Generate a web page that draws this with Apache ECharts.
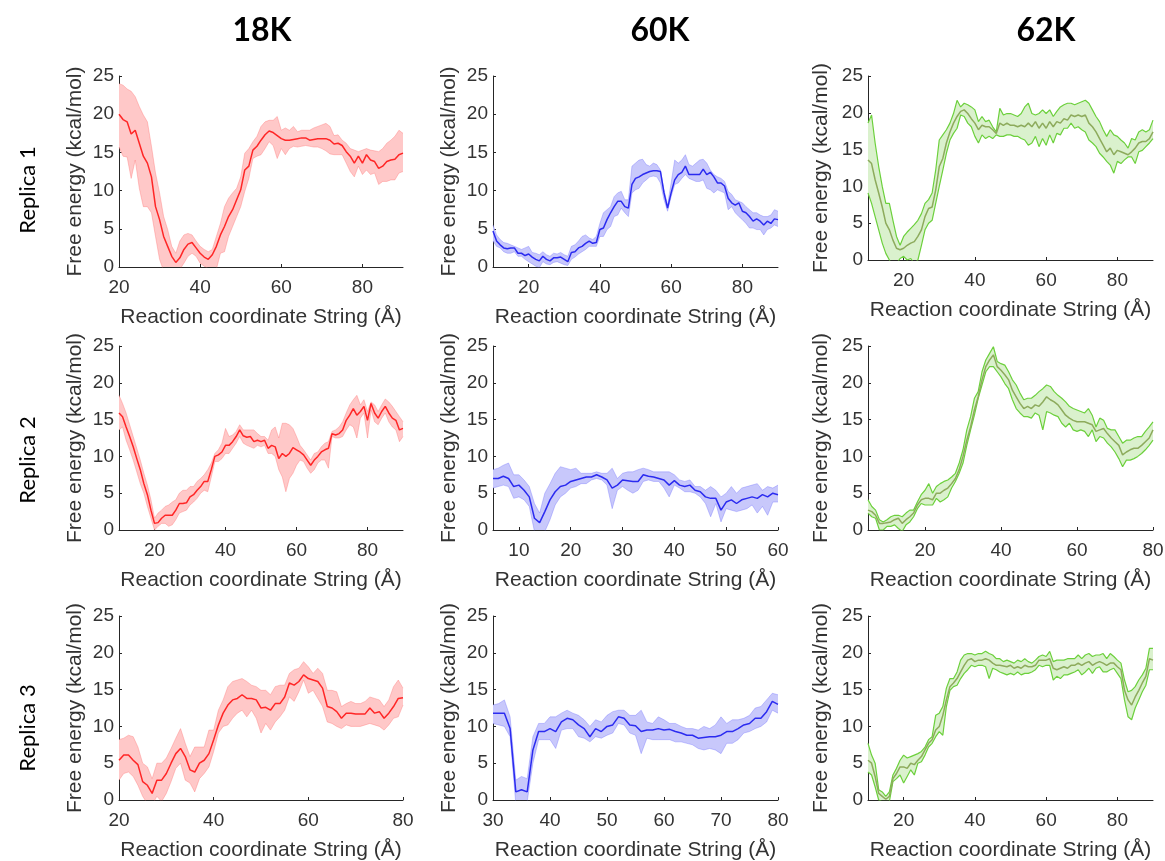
<!DOCTYPE html>
<html>
<head>
<meta charset="utf-8">
<title>Free energy along the string reaction coordinate</title>
<script src="https://cdn.jsdelivr.net/npm/echarts@6/dist/echarts.min.js"></script>
<style>
  html, body { margin: 0; padding: 0; background: #ffffff; }
  #chart { width: 1165px; height: 861px; }
</style>
</head>
<body>
<div id="chart"></div>
<script>
// ---------------------------------------------------------------
// Free-energy profiles (kcal/mol) along the string coordinate (Å),
// sampled every 1 Å. Each profile: mean, upper and lower bound.
// ---------------------------------------------------------------
const columnTitles = ['18K', '60K', '62K'];
const rowTitles = ['Replica 1', 'Replica 2', 'Replica 3'];
const xAxisTitle = 'Reaction coordinate String (Å)';
const yAxisTitle = 'Free energy (kcal/mol)';
const energyTicks = [0, 5, 10, 15, 20, 25];
const stepA = 1;

// Replica 1, 18K
const r1k18Start = 20;
const r1k18Mean = [20.0,19.3,19.0,17.4,17.9,16.2,14.5,13.6,11.8,7.9,6.2,4.0,2.7,1.4,0.6,1.2,2.3,3.0,3.2,2.5,1.8,1.3,1.0,1.6,2.7,4.2,5.3,6.6,7.5,8.8,10.1,12.7,13.2,15.3,15.8,16.6,17.3,17.8,17.6,17.2,16.8,16.6,16.6,16.7,16.8,16.9,16.9,16.6,16.7,16.8,16.8,16.8,16.6,16.1,16.2,15.9,15.1,14.5,13.6,14.5,13.6,14.7,14.0,13.8,12.9,13.2,13.8,14.0,14.1,14.7,14.9];
const r1k18Upper = [24.0,23.8,23.3,23.0,22.3,21.0,19.9,19.0,15.8,12.3,9.7,6.6,4.9,2.7,1.8,3.4,4.2,4.4,4.2,3.4,2.7,2.3,2.0,2.3,4.0,5.7,7.9,9.0,9.7,10.3,11.8,14.9,15.5,16.4,17.1,18.4,19.0,19.2,19.2,19.7,17.9,18.2,17.9,18.4,17.7,17.9,17.9,17.9,18.2,18.4,18.6,18.8,18.4,17.2,17.3,16.6,16.2,15.5,15.3,15.1,15.3,15.5,15.3,15.2,15.1,15.5,16.2,16.6,17.1,17.9,17.5];
const r1k18Lower = [15.7,14.5,14.4,11.6,14.0,10.3,7.9,7.9,7.1,4.0,1.0,-0.5,-0.8,-1.0,-1.2,-0.3,0.5,1.4,1.8,1.4,0.5,0.1,-0.2,-0.3,-0.3,1.8,2.0,4.0,5.3,6.6,7.9,9.9,11.6,14.2,14.5,14.7,15.5,16.4,15.9,14.2,15.5,14.7,15.5,15.8,15.7,15.8,15.9,15.8,15.7,15.7,15.5,15.2,14.8,14.7,14.7,14.7,13.6,12.5,11.8,13.2,12.1,12.7,12.1,12.3,10.8,11.2,11.2,11.4,11.4,12.3,12.5];
const r1k18Ticks = [20, 40, 60, 80];

// Replica 1, 60K
const r1k60Start = 10;
const r1k60Mean = [4.7,3.4,2.9,2.5,2.4,2.5,2.5,1.8,1.8,1.5, 1.7,1.3,1.0,0.8,1.4,1.0,0.8,1.2,1.2,1.3, 1.0,0.7,1.9,2.0,2.5,2.7,3.1,3.4,3.1,3.2, 4.9,5.1,6.2,7.1,7.9,8.6,8.6,7.9,7.7,10.8, 11.6,11.8,12.1,12.3,12.5,12.6,12.6,12.5,9.7,7.7, 9.7,11.4,12.1,12.4,13.2,12.1,12.1,12.1,12.1,12.8, 12.1,12.4,11.8,11.0,11.0,10.6,9.0,8.4,8.1,8.4, 7.3,7.1,6.6,6.0,6.3,6.0,5.5,6.0,5.7,6.3,6.2];
const r1k60Upper = [5.5,4.2,3.6,3.2,3.1,2.9,2.7,2.5,2.3,2.5, 2.7,1.9,1.8,1.6,2.0,1.6,1.4,1.8,1.7,1.9, 1.6,1.4,2.7,2.9,3.4,4.0,4.2,3.8,3.6,4.0, 5.7,7.1,7.5,7.9,9.2,9.7,9.9,8.8,8.8,13.2, 13.6,14.0,14.1,13.4,13.2,13.6,13.4,12.7,10.1,8.1, 11.0,14.0,13.6,14.0,14.7,13.4,13.2,13.6,14.0,14.1, 13.6,12.7,12.1,11.8,11.6,11.2,9.9,9.5,8.8,8.6, 8.4,7.9,7.5,7.1,7.1,6.8,6.6,6.6,6.8,7.5,7.3];
const r1k60Lower = [3.4,2.7,2.5,2.0,1.8,1.8,2.0,1.4,1.4,1.0, 0.7,0.4,0.1,-0.1,0.7,0.4,0.3,0.6,0.7,0.5, 0.3,0.2,1.0,1.3,1.7,2.0,2.3,2.7,2.7,2.7, 4.0,4.0,4.9,5.3,6.6,6.8,7.7,7.1,6.6,9.7, 10.1,10.3,11.0,11.4,11.8,11.9,11.8,11.0,8.8,7.3, 9.2,10.8,11.0,11.6,12.1,11.6,11.4,11.2,11.2,11.4, 10.3,10.1,9.7,10.1,9.9,9.7,7.5,7.9,7.1,6.6, 6.2,5.7,5.1,5.1,4.9,4.9,4.2,4.9,5.1,5.5,5.3];
const r1k60Ticks = [20, 40, 60, 80];

// Replica 1, 62K
const r1k62Start = 10;
const r1k62Mean = [13.6,13.1,10.9,9.1,7.2,5.0,4.1,2.7,1.6,1.4, 1.6,2.0,2.3,2.5,3.2,4.1,5.9,7.0,7.2,9.5, 12.7,13.8,15.9,17.4,18.6,19.5,20.2,20.4,19.9,19.2, 18.6,17.7,18.3,18.1,18.1,17.7,17.2,18.6,18.3,18.6, 18.3,18.3,18.1,18.3,18.1,18.6,18.1,18.8,17.9,18.6, 17.9,18.8,18.1,18.8,18.6,19.2,19.0,19.7,19.5,19.7, 19.5,19.7,18.6,18.1,17.4,16.5,15.6,14.7,15.2,14.3, 14.9,14.7,14.5,14.3,14.7,15.2,15.9,16.1,16.1,16.5,17.4];
const r1k62Upper = [18.6,19.7,15.9,12.7,10.0,7.7,7.7,5.4,3.2,2.0, 3.2,3.8,4.3,4.8,5.4,6.3,7.7,8.2,9.1,12.2, 16.3,17.0,17.7,18.6,19.9,21.7,20.8,21.3,21.1,20.8, 20.4,18.8,19.5,18.8,19.0,18.1,17.4,20.6,19.7,19.9, 19.9,19.7,19.5,19.9,20.8,21.3,19.9,19.7,19.9,20.4, 19.9,20.4,19.5,20.2,20.8,21.1,21.3,21.3,21.1,21.3, 21.5,21.7,21.3,20.4,19.5,18.8,17.7,16.8,17.7,17.0, 16.8,16.3,15.9,15.2,16.5,16.3,17.4,17.7,17.4,17.7,19.0];
const r1k62Lower = [9.1,7.7,5.9,4.1,2.3,0.9,0.0,-0.9,-0.5,0.2, 0.5,0.0,0.2,-0.5,0.0,2.0,4.1,5.0,5.4,7.7, 10.0,12.2,14.5,16.3,17.2,17.9,19.7,19.5,18.6,18.1, 16.8,15.9,17.0,16.5,16.8,16.5,17.0,16.8,16.8,17.0, 17.0,16.8,16.8,16.5,16.3,15.6,15.9,16.8,15.4,16.5, 15.6,17.0,15.9,17.2,17.0,17.9,17.9,18.6,17.9,18.1, 17.7,17.4,16.3,15.9,15.4,14.5,14.0,13.4,12.9,11.8, 13.4,13.1,13.6,14.0,14.0,13.1,14.7,14.9,15.4,15.9,16.5];
const r1k62Ticks = [20, 40, 60, 80];

// Replica 2, 18K
const r2k18Start = 10;
const r2k18Mean = [15.9,15.4,14.0,12.7,11.3,9.7,8.2,6.3,4.8,2.7, 0.9,1.0,1.6,2.0,2.0,2.0,2.7,3.6,3.6,3.7, 4.5,4.8,5.4,5.9,6.6,6.6,8.2,10.0,10.2,10.6, 11.5,11.5,12.0,12.7,13.6,12.8,12.6,12.7,12.0,12.2, 12.0,12.2,11.1,11.5,11.3,9.7,10.4,10.0,10.4,11.2, 10.9,10.6,10.2,9.5,8.8,9.5,10.0,10.6,10.9,11.1, 13.1,12.9,13.1,13.6,14.9,15.6,16.5,15.6,16.1,16.8, 14.9,17.2,15.9,15.2,16.1,16.8,15.9,15.2,14.9,13.6,13.8];
const r2k18Upper = [18.3,17.2,15.9,14.3,12.7,11.1,9.5,7.7,6.1,4.1, 1.6,2.3,2.7,3.2,3.4,3.8,4.1,5.0,5.4,5.4, 5.9,5.9,6.6,7.0,7.5,8.2,9.1,10.4,10.9,11.8, 13.8,12.7,12.9,13.4,14.3,13.6,13.6,13.6,13.6,13.1, 12.7,12.7,12.2,13.6,14.0,12.5,14.5,14.5,14.3,13.8, 12.7,11.5,10.9,10.2,9.5,10.4,10.6,11.3,11.8,12.0, 13.4,13.6,14.0,14.7,15.9,17.0,17.7,18.3,17.0,17.7, 16.1,17.4,17.0,16.1,17.0,17.8,17.4,16.8,16.1,15.4,14.7];
const r2k18Lower = [13.6,14.0,12.2,10.9,9.5,7.9,6.3,5.0,3.2,1.6, 0.0,0.5,0.9,0.9,0.5,0.7,1.4,2.3,2.5,2.7, 3.4,3.8,4.3,5.0,5.4,5.2,7.2,9.3,9.3,9.7, 10.4,10.4,11.1,11.8,12.7,11.8,11.5,11.3,11.1,11.5, 11.3,11.5,10.4,10.4,10.0,8.2,7.2,5.2,7.0,7.7, 8.8,9.5,9.3,8.4,7.7,8.2,9.1,9.5,9.5,8.4, 12.7,12.5,12.5,12.7,13.6,14.3,14.0,12.5,15.2,15.9, 12.5,16.3,14.7,14.3,15.2,15.9,14.7,14.0,13.6,12.0,12.7];
const r2k18Ticks = [20, 40, 60, 80];

// Replica 2, 60K
const r2k60Start = 5;
const r2k60Mean = [7.0,7.0,7.3,7.0,5.9,6.1,5.4,4.5,1.6,1.0, 2.5,4.1,5.2,5.9,6.1,6.6,6.8,7.0,7.2,7.2, 7.5,7.2,6.8,5.7,6.1,6.8,6.7,6.6,6.6,7.5, 7.3,7.2,7.0,6.8,6.1,6.7,6.1,5.9,6.1,5.4, 5.2,4.5,4.3,4.3,2.7,3.8,4.1,3.6,4.1,4.3, 4.5,4.3,4.8,4.5,5.0,4.8];
const r2k60Upper = [8.2,8.4,8.8,9.1,7.5,7.5,6.8,5.9,3.6,2.3, 5.0,6.3,7.7,8.6,8.4,8.2,8.4,7.7,7.7,7.7, 7.9,7.7,7.7,8.4,7.0,7.7,7.9,7.9,8.2,8.4, 8.2,7.9,7.9,7.9,7.9,7.5,6.8,6.6,6.8,5.9, 5.9,5.4,5.9,5.4,4.5,5.0,5.9,5.0,5.7,5.9, 6.1,6.3,5.4,5.9,5.7,6.1];
const r2k60Lower = [5.7,5.9,6.1,5.9,4.3,4.5,4.1,3.2,-0.2,-1.4, -0.2,1.4,3.4,4.5,5.0,5.7,5.9,6.3,6.3,6.8, 7.0,6.8,6.1,2.9,5.4,5.9,5.4,5.0,5.4,6.6, 6.8,6.6,6.6,5.7,4.5,6.1,5.7,5.2,5.2,5.0, 4.5,3.6,1.8,3.6,1.1,2.9,2.7,2.5,2.7,2.9, 3.4,2.3,3.2,2.0,3.8,3.8];
const r2k60Ticks = [10, 20, 30, 40, 50, 60];

// Replica 2, 62K
const r2k62Start = 5;
const r2k62Mean = [2.7,2.5,2.0,0.9,0.9,1.0,1.1,1.4,1.6,0.9, 1.4,1.8,2.3,3.4,4.1,4.3,4.3,4.1,5.0,5.0, 5.4,5.7,6.3,7.0,8.2,10.0,12.2,14.0,16.3,18.1, 20.4,22.2,23.1,23.8,22.2,21.7,21.1,20.4,19.0,18.1, 17.2,16.5,16.8,16.5,17.0,16.8,17.4,18.1,17.7,17.4, 17.0,16.3,15.6,15.2,14.9,14.7,14.7,14.7,14.5,14.3, 13.4,13.6,13.8,13.1,12.5,12.0,11.5,10.2,10.6,10.9, 11.1,11.1,11.5,12.0,12.5,13.6];
const r2k62Upper = [4.1,3.2,2.7,1.4,1.1,1.4,1.8,2.0,2.0,1.8, 2.3,2.7,2.7,3.8,4.8,5.4,6.3,5.0,5.9,6.3, 6.6,6.8,7.2,7.7,9.1,10.9,13.6,15.4,17.9,18.8, 21.5,23.1,24.0,24.9,22.9,22.6,22.4,21.5,20.4,19.7, 18.6,17.7,17.9,17.9,18.3,18.8,19.2,19.7,19.5,18.8, 18.3,17.9,17.4,16.8,16.5,16.3,16.1,15.9,16.5,15.6, 14.0,15.2,14.9,13.8,13.6,13.6,12.7,11.8,12.2,12.2, 12.5,12.7,12.7,13.4,14.0,14.7];
const r2k62Lower = [2.3,1.8,1.6,0.0,0.0,0.5,0.5,0.7,0.2,-0.2, 0.7,1.1,1.8,2.9,3.6,3.4,3.4,3.4,4.3,3.8, 4.1,4.5,5.7,6.6,7.7,9.1,11.5,13.6,15.6,17.9, 19.7,21.5,22.2,22.2,21.5,20.8,19.9,19.2,17.7,16.5, 15.9,15.4,15.4,15.2,15.9,15.6,13.6,16.1,15.9,15.6, 15.4,14.5,14.0,14.5,13.6,13.4,13.6,13.4,12.7,13.6, 12.0,12.7,12.5,11.8,11.3,10.6,9.7,8.6,9.5,9.5, 9.7,10.0,10.4,10.9,11.5,12.2];
const r2k62Ticks = [20, 40, 60, 80];

// Replica 3, 18K
const r3k18Start = 20;
const r3k18Mean = [5.4,6.1,6.1,5.4,4.8,2.5,2.0,0.9,2.7,2.7, 3.6,5.0,6.3,7.0,5.9,4.1,3.8,5.0,5.4,6.3, 8.2,10.2,11.8,12.9,13.6,13.8,14.3,13.8,13.8,13.6, 12.5,12.6,12.2,13.1,13.1,14.0,15.9,15.6,16.1,17.0, 16.5,16.3,16.1,15.2,12.7,12.5,12.0,11.1,11.8,11.8, 11.7,11.7,11.7,12.5,11.8,12.0,11.1,11.8,12.7,13.8,13.9];
const r3k18Upper = [8.2,8.4,8.8,8.6,7.2,5.0,4.5,2.9,5.0,5.0, 5.7,7.0,8.4,9.7,7.7,5.9,7.2,7.2,7.2,9.5, 9.5,12.2,13.6,15.4,16.1,16.3,16.5,16.1,15.6,15.4, 14.9,14.9,14.3,15.4,15.6,15.6,17.2,17.7,17.9,18.8, 18.1,17.2,17.9,17.2,14.9,14.9,14.7,12.7,13.1,13.4, 13.1,13.1,13.4,14.0,13.8,13.6,12.7,13.6,15.4,16.3,15.2];
const r3k18Lower = [2.7,3.6,3.8,3.2,2.0,0.5,-0.5,-0.7,0.5,-0.2, 0.9,2.5,4.3,5.0,2.7,2.3,1.1,2.9,3.6,4.5, 6.6,9.1,10.0,10.2,11.1,11.8,12.2,11.3,12.2,11.1, 9.1,10.4,9.5,10.6,11.3,12.2,14.0,13.4,14.7,16.3, 14.5,14.9,13.8,12.7,10.6,10.4,10.0,9.7,10.2,10.0, 10.0,10.0,10.2,10.4,10.2,10.0,9.5,10.2,11.1,11.3,12.9];
const r3k18Ticks = [20, 40, 60, 80];

// Replica 3, 60K
const r3k60Start = 30;
const r3k60Mean = [11.8,11.8,11.8,9.7,1.1,1.4,1.1,6.8,9.3,9.3, 9.7,9.3,10.6,11.1,10.9,10.2,9.7,8.6,9.7,9.3, 10.0,10.2,11.3,11.1,10.2,10.1,9.3,9.5,9.5,9.7, 9.5,9.6,9.3,9.1,8.8,8.8,8.4,8.5,8.6,8.6, 8.8,9.3,9.3,9.7,10.2,10.4,11.1,11.1,12.0,13.4,13.0];
const r3k60Upper = [12.9,13.1,13.6,11.3,2.7,3.2,2.9,8.6,10.4,10.4, 11.3,11.3,11.8,12.2,11.8,11.5,10.9,10.0,10.9,10.6, 11.5,12.0,12.2,12.2,11.5,11.5,12.2,10.6,10.4,11.3, 10.9,10.4,10.4,10.0,9.7,9.7,9.5,10.0,9.7,10.2, 11.3,10.4,10.9,10.9,11.1,11.5,12.5,12.7,13.6,14.5,14.3];
const r3k60Lower = [10.4,10.2,10.0,8.6,-0.5,-0.2,-0.2,5.0,8.2,8.2, 8.2,7.0,9.5,9.7,9.7,8.6,8.4,7.9,8.6,8.4, 8.8,9.1,10.4,10.2,9.1,8.8,6.3,8.4,8.2,8.2, 8.2,8.2,7.9,7.9,7.7,7.5,7.0,6.8,7.0,6.8, 6.3,7.7,7.7,8.2,9.1,9.3,9.7,10.0,10.6,12.2,11.8];
const r3k60Ticks = [30, 40, 50, 60, 70, 80];

// Replica 3, 62K
const r3k62Start = 10;
const r3k62Mean = [5.4,5.0,3.2,0.9,0.5,0.1,0.5,2.9,3.6,4.5, 4.5,4.3,5.0,4.8,5.4,5.9,6.8,7.7,8.2,9.5, 10.0,11.5,13.6,15.4,15.9,16.5,17.4,18.3,19.0,19.2, 18.8,19.0,19.0,19.2,19.0,18.6,18.3,18.3,18.2,18.1, 18.3,17.9,18.1,17.9,18.3,18.1,18.1,18.3,19.0,19.0, 19.0,19.2,17.9,17.7,17.9,18.1,17.9,18.3,18.3,18.6, 18.3,18.6,18.8,18.3,18.6,18.8,18.6,18.3,18.6,18.6, 18.1,17.7,14.9,13.6,12.9,14.0,14.9,15.9,16.8,19.2,19.0];
const r3k62Upper = [7.7,6.1,5.0,1.4,1.1,0.5,1.1,3.4,4.3,5.4, 6.1,5.7,5.9,6.1,6.3,6.6,7.2,8.2,8.6,11.5, 11.8,12.7,15.2,16.5,16.5,17.4,19.0,19.7,19.9,19.9, 19.7,19.9,19.9,20.2,19.9,19.7,19.2,19.2,18.8,19.0, 18.8,18.6,19.0,18.8,19.2,18.8,18.6,19.0,19.5,19.7, 19.5,20.2,18.8,19.0,19.0,19.0,19.2,19.2,19.2,19.7, 19.2,19.7,19.9,19.5,19.7,19.7,19.9,19.2,19.9,19.5, 19.0,18.6,16.3,14.7,14.9,15.4,16.3,17.0,17.9,20.6,20.6];
const r3k62Lower = [3.8,3.4,1.8,0.0,-0.2,-0.2,-0.2,2.5,2.9,3.4, 2.3,3.2,4.1,3.4,5.0,5.2,6.1,7.2,7.7,8.6, 9.3,8.8,12.7,14.9,15.4,15.6,16.5,17.2,17.7,18.3, 18.1,18.3,18.3,18.1,16.5,17.9,17.7,17.4,17.2,17.0, 17.2,17.0,17.4,17.0,17.2,17.2,17.4,17.7,18.3,18.1, 18.3,18.3,16.3,16.8,16.5,17.0,17.0,17.2,17.4,17.7, 17.0,17.4,17.9,17.2,17.9,18.1,17.4,17.4,17.7,17.9, 17.2,16.5,13.6,11.3,10.9,12.5,13.6,14.7,15.6,17.7,17.7];
const r3k62Ticks = [20, 40, 60, 80];

// ---------------------------------------------------------------
// Panel layout and colour themes
// ---------------------------------------------------------------
const themes = {
  red:   { mean: '#ff2626', fill: '#ffc8c8', edge: 'rgba(255,110,110,0.45)', edgeWidth: 0.8, meanWidth: 1.5 },
  blue:  { mean: '#2b2bf0', fill: '#c8c8fb', edge: 'rgba(110,110,255,0.45)', edgeWidth: 0.8, meanWidth: 1.5 },
  green: { mean: '#8dab5c', fill: '#daf1cd', edge: '#6cd03c', edgeWidth: 1.2, meanWidth: 1.5 }
};

const colLeft = [119, 493, 868];
const colWidth = [284, 285, 285];
const colNameGap = [33, 33, 36];

const panels = [
  { row: 0, col: 0, top: 76,  height: 191, xMin: 20, xMax: 90, x0: r1k18Start, mean: r1k18Mean, upper: r1k18Upper, lower: r1k18Lower, ticks: r1k18Ticks, theme: 'red' },
  { row: 0, col: 1, top: 76,  height: 191, xMin: 10, xMax: 90, x0: r1k60Start, mean: r1k60Mean, upper: r1k60Upper, lower: r1k60Lower, ticks: r1k60Ticks, theme: 'blue' },
  { row: 0, col: 2, top: 76,  height: 184, xMin: 10, xMax: 90, x0: r1k62Start, mean: r1k62Mean, upper: r1k62Upper, lower: r1k62Lower, ticks: r1k62Ticks, theme: 'green' },
  { row: 1, col: 0, top: 346, height: 184, xMin: 10, xMax: 90, x0: r2k18Start, mean: r2k18Mean, upper: r2k18Upper, lower: r2k18Lower, ticks: r2k18Ticks, theme: 'red' },
  { row: 1, col: 1, top: 346, height: 184, xMin: 5,  xMax: 60, x0: r2k60Start, mean: r2k60Mean, upper: r2k60Upper, lower: r2k60Lower, ticks: r2k60Ticks, theme: 'blue' },
  { row: 1, col: 2, top: 346, height: 184, xMin: 5,  xMax: 80, x0: r2k62Start, mean: r2k62Mean, upper: r2k62Upper, lower: r2k62Lower, ticks: r2k62Ticks, theme: 'green' },
  { row: 2, col: 0, top: 616, height: 184, xMin: 20, xMax: 80, x0: r3k18Start, mean: r3k18Mean, upper: r3k18Upper, lower: r3k18Lower, ticks: r3k18Ticks, theme: 'red' },
  { row: 2, col: 1, top: 616, height: 184, xMin: 30, xMax: 80, x0: r3k60Start, mean: r3k60Mean, upper: r3k60Upper, lower: r3k60Lower, ticks: r3k60Ticks, theme: 'blue' },
  { row: 2, col: 2, top: 616, height: 184, xMin: 10, xMax: 90, x0: r3k62Start, mean: r3k62Mean, upper: r3k62Upper, lower: r3k62Lower, ticks: r3k62Ticks, theme: 'green' }
];

const axisColor = '#262626';
const labelColor = '#333333';
const textFont = '"Liberation Sans", Arial, sans-serif';
const headFont = 'Lato, "Liberation Sans", sans-serif';

// sample positions along the string, 1 Å apart
function positions(start, count) {
  const xs = [];
  for (let i = 0; i < count; i++) xs.push(start + i * stepA);
  return xs;
}

function pairs(xs, ys) {
  return xs.map((x, i) => [x, ys[i]]);
}

// shaded band between lower and upper bound, mapped through the axes
function bandRenderer(xs, lo, hi, fill) {
  return function (params, api) {
    if (params.dataIndex !== 0) return null;
    const top = xs.map((x, i) => api.coord([x, hi[i]]));
    const bottom = xs.map((x, i) => api.coord([x, lo[i]])).reverse();
    return {
      type: 'polygon',
      shape: { points: top.concat(bottom) },
      style: { fill: fill, stroke: null },
      silent: true
    };
  };
}

const grids = [], xAxes = [], yAxes = [], series = [];

panels.forEach((p, i) => {
  const th = themes[p.theme];
  const xs = positions(p.x0, p.mean.length);

  grids.push({
    left: colLeft[p.col], top: p.top, width: colWidth[p.col], height: p.height,
    containLabel: false, outerBoundsMode: 'none', show: false
  });

  xAxes.push({
    type: 'value', gridIndex: i, min: p.xMin, max: p.xMax,
    name: xAxisTitle, nameLocation: 'middle', nameGap: 40,
    nameTextStyle: { fontFamily: textFont, fontSize: 21, color: labelColor },
    axisLine: { show: true, onZero: false, lineStyle: { color: axisColor, width: 1 } },
    axisTick: { show: true, inside: true, length: 3, customValues: p.ticks, lineStyle: { color: axisColor } },
    axisLabel: { customValues: p.ticks, fontFamily: textFont, fontSize: 19, color: labelColor, margin: 11 },
    splitLine: { show: false }
  });

  yAxes.push({
    type: 'value', gridIndex: i, min: 0, max: 25, interval: 5,
    name: yAxisTitle, nameLocation: 'middle', nameGap: colNameGap[p.col],
    nameTextStyle: { fontFamily: textFont, fontSize: 21, color: labelColor },
    axisLine: { show: true, onZero: false, lineStyle: { color: axisColor, width: 1 } },
    axisTick: { show: true, inside: true, length: 3, customValues: energyTicks, lineStyle: { color: axisColor } },
    axisLabel: { customValues: energyTicks, fontFamily: textFont, fontSize: 19, color: labelColor, margin: 5 },
    splitLine: { show: false }
  });

  series.push({
    type: 'custom', xAxisIndex: i, yAxisIndex: i, clip: true, z: 1, silent: true,
    data: xs.map((x, k) => [x, p.lower[k], p.upper[k]]),
    encode: { x: 0, y: [1, 2] },
    renderItem: bandRenderer(xs, p.lower, p.upper, th.fill)
  });

  [p.lower, p.upper].forEach(edge => {
    series.push({
      type: 'line', xAxisIndex: i, yAxisIndex: i, z: 2, silent: true,
      data: pairs(xs, edge), showSymbol: false, symbol: 'none', clip: true,
      lineStyle: { color: th.edge, width: th.edgeWidth }
    });
  });

  series.push({
    type: 'line', xAxisIndex: i, yAxisIndex: i, z: 3, silent: true,
    data: pairs(xs, p.mean), showSymbol: false, symbol: 'none', clip: true,
    lineStyle: { color: th.mean, width: th.meanWidth }
  });
});

// column headings and row labels
const headX = [262, 660, 1046];
const rowY = [190, 460, 728];
const graphics = [];
columnTitles.forEach((t, c) => {
  graphics.push({
    type: 'text', x: headX[c], y: 31,
    style: { text: t, font: 'bold 32px ' + headFont, fill: '#000000', align: 'center', verticalAlign: 'middle' }
  });
});
rowTitles.forEach((t, r) => {
  graphics.push({
    type: 'text', x: 28, y: rowY[r], rotation: Math.PI / 2,
    style: { text: t, font: '22px ' + headFont, fill: '#000000', align: 'center', verticalAlign: 'middle' }
  });
});

const chart = echarts.init(document.getElementById('chart'), null, { renderer: 'canvas' });
chart.setOption({
  animation: false,
  backgroundColor: '#ffffff',
  grid: grids,
  xAxis: xAxes,
  yAxis: yAxes,
  series: series,
  graphic: graphics
});
</script>
</body>
</html>
